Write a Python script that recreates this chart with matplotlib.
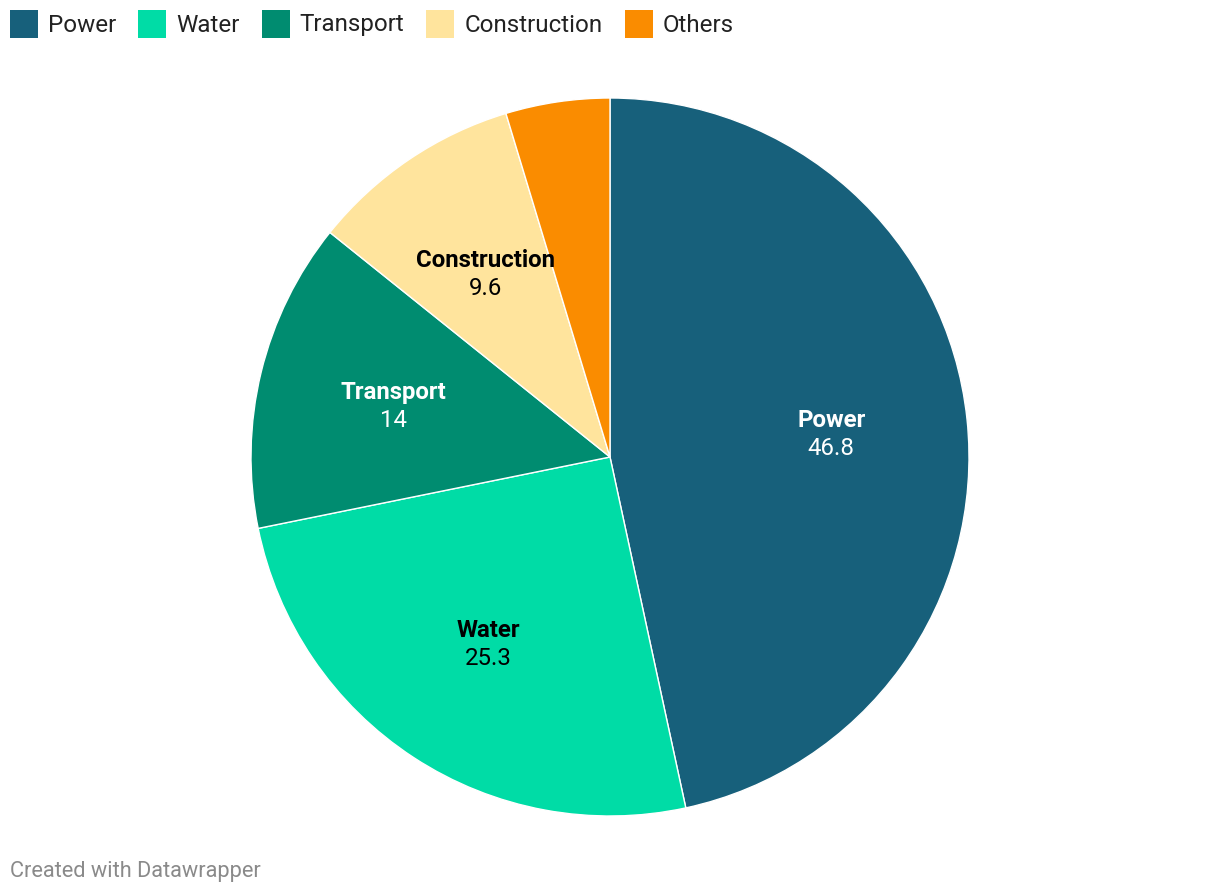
import matplotlib
matplotlib.use("Agg")
import matplotlib.pyplot as plt
import numpy as np
from matplotlib.patches import Rectangle

plt.rcParams['font.family'] = ['Roboto', 'DejaVu Sans']

# data
categories = ["Power", "Water", "Transport", "Construction", "Others"]
values = [46.8, 25.3, 14, 9.6, 4.7]
colors = ["#17607b", "#00dca6", "#008c70", "#ffe49d", "#fa8c00"]
label_colors = ["white", "black", "white", "black", None]
show_label = [True, True, True, True, False]

W, H = 1220, 894
fig = plt.figure(figsize=(W / 100, H / 100), dpi=100)

# pie axes: center (610, 457), radius 359 px
cx, cy, r = 610, 457, 359
ax = fig.add_axes([(cx - r) / W, (H - cy - r) / H, 2 * r / W, 2 * r / H])
wedges, _ = ax.pie(values, colors=colors, startangle=90, counterclock=False,
                   wedgeprops=dict(edgecolor="white", linewidth=1.0))
ax.set_xlim(-1, 1)
ax.set_ylim(-1, 1)
ax.set_aspect("equal")
ax.axis("off")

# labels inside wedges
off = 14 / r
for w, name, val, tc, show in zip(wedges, categories, values, label_colors, show_label):
    if not show:
        continue
    ang = np.deg2rad((w.theta1 + w.theta2) / 2)
    x, y = 0.62 * np.cos(ang), 0.62 * np.sin(ang) - 1.5 / r
    ax.text(x, y + off, name, ha="center", va="center", color=tc,
            fontsize=17.3, fontweight="bold")
    ax.text(x, y - off, f"{val:g}", ha="center", va="center", color=tc,
            fontsize=17.3)

# legend across the top
fig.canvas.draw()
renderer = fig.canvas.get_renderer()
xpos = 10
ymid = 24
for name, c in zip(categories, colors):
    fig.patches.append(Rectangle((xpos / W, (H - ymid - 14) / H), 28 / W, 28 / H,
                                 transform=fig.transFigure, facecolor=c,
                                 edgecolor="none"))
    t = fig.text((xpos + 38) / W, 1 - (ymid + 1) / H, name, ha="left", va="center",
                 fontsize=17.4, color="#222222")
    bb = t.get_window_extent(renderer=renderer)
    xpos = bb.x1 + 22

fig.text(10 / W, 1 - 871 / H, "Created with Datawrapper", ha="left", va="center",
         fontsize=15.7, color="#8a8a8a")

fig.savefig("out.png", dpi=100)
